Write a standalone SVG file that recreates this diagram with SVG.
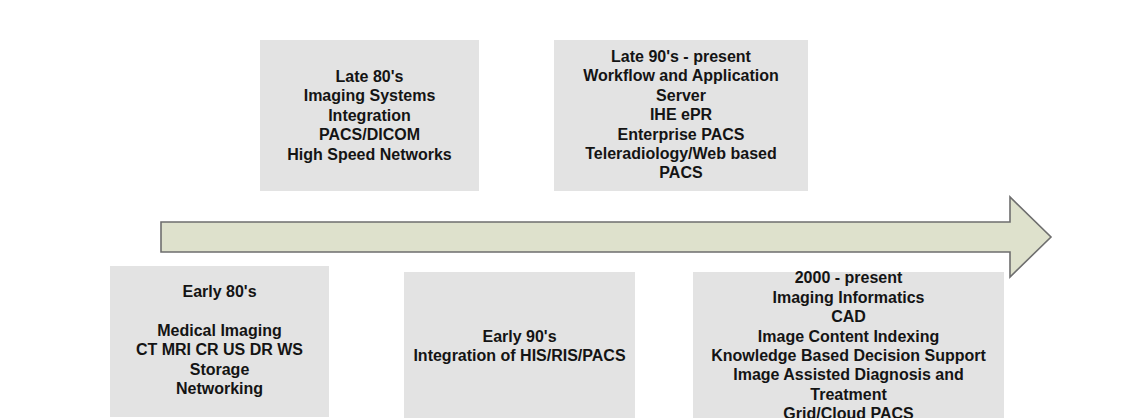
<svg xmlns="http://www.w3.org/2000/svg" width="1140" height="418" viewBox="0 0 1140 418">
<style>
.box{fill:#e3e3e3;stroke:none}
.t{font-family:"Liberation Sans",Arial,sans-serif;font-weight:bold;font-size:16px;fill:#141414;text-anchor:middle}
.arrow{fill:#dee1cc;stroke:#6e6e6e;stroke-width:1.6}
</style>
<rect x="0" y="0" width="1140" height="418" fill="#ffffff"/>
<g id="connectors">
<polygon class="arrow" points="161,222 1010,222 1010,197 1051,237 1010,277 1010,252 161,252"/>
</g>
<g id="late80s">
<rect class="box" x="260" y="40" width="219" height="151"/>
<text class="t" x="369.5" y="82">Late 80's</text>
<text class="t" x="369.5" y="101.4">Imaging Systems</text>
<text class="t" x="369.5" y="120.8">Integration</text>
<text class="t" x="369.5" y="140.2">PACS/DICOM</text>
<text class="t" x="369.5" y="159.6">High Speed Networks</text>
</g>
<g id="late90s">
<rect class="box" x="554" y="40" width="254" height="151"/>
<text class="t" x="681" y="62">Late 90's - present</text>
<text class="t" x="681" y="81.4">Workflow and Application</text>
<text class="t" x="681" y="100.8">Server</text>
<text class="t" x="681" y="120.2">IHE ePR</text>
<text class="t" x="681" y="139.6">Enterprise PACS</text>
<text class="t" x="681" y="159">Teleradiology/Web based</text>
<text class="t" x="681" y="178.4">PACS</text>
</g>
<g id="early80s">
<rect class="box" x="110" y="266" width="219" height="151"/>
<text class="t" x="219.5" y="297">Early 80's</text>
<text class="t" x="219.5" y="335.8">Medical Imaging</text>
<text class="t" x="219.5" y="355.2">CT MRI CR US DR WS</text>
<text class="t" x="219.5" y="374.6">Storage</text>
<text class="t" x="219.5" y="394">Networking</text>
</g>
<g id="early90s">
<rect class="box" x="404" y="272" width="231" height="150"/>
<text class="t" x="519.5" y="342">Early 90's</text>
<text class="t" x="519.5" y="361.4">Integration of HIS/RIS/PACS</text>
</g>
<g id="y2000">
<rect class="box" x="693" y="272" width="311" height="150"/>
<text class="t" x="848.5" y="283.4">2000 - present</text>
<text class="t" x="848.5" y="302.8">Imaging Informatics</text>
<text class="t" x="848.5" y="322.2">CAD</text>
<text class="t" x="848.5" y="341.6">Image Content Indexing</text>
<text class="t" x="848.5" y="361">Knowledge Based Decision Support</text>
<text class="t" x="848.5" y="380.4">Image Assisted Diagnosis and</text>
<text class="t" x="848.5" y="399.8">Treatment</text>
<text class="t" x="848.5" y="419.2">Grid/Cloud PACS</text>
</g>
</svg>
